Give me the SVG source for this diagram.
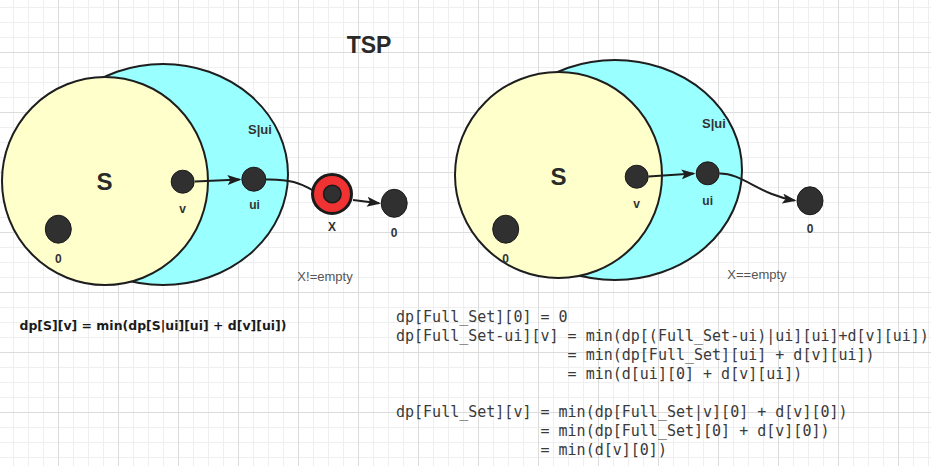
<svg xmlns="http://www.w3.org/2000/svg" width="931" height="466" viewBox="0 0 931 466">
  <defs>
    <pattern id="grid" patternUnits="userSpaceOnUse" x="-2" y="-8" width="60" height="60">
      <rect x="0" y="0" width="60" height="60" fill="#ffffff"/>
      <g fill="#efefef">
        <rect x="15" y="0" width="1" height="60"/>
        <rect x="30" y="0" width="1" height="60"/>
        <rect x="45" y="0" width="1" height="60"/>
        <rect x="0" y="15" width="60" height="1"/>
        <rect x="0" y="30" width="60" height="1"/>
        <rect x="0" y="45" width="60" height="1"/>
      </g>
      <g fill="#dcdcdc">
        <rect x="0" y="0" width="1" height="60"/>
        <rect x="0" y="0" width="60" height="1"/>
      </g>
    </pattern>
    <marker id="ah" viewBox="0 0 14 10" refX="12" refY="5" markerWidth="14" markerHeight="10" orient="auto" markerUnits="userSpaceOnUse">
      <path d="M0,0 L14,5 L0,10 L3,5 z" fill="#1e1e1e"/>
    </marker>
    <style>
      .sui { fill: #99ffff; stroke: #1e1e1e; stroke-width: 2; }
      .s { fill: #ffffcc; stroke: #1e1e1e; stroke-width: 2; }
      .dot { fill: #303030; stroke: #1a1a1a; stroke-width: 1; }
      .edge { fill: none; stroke: #1e1e1e; stroke-width: 2; }
      .lbl { font-family: "Liberation Sans", Arial, sans-serif; font-weight: bold; font-size: 12px; fill: #333333; text-anchor: middle; }
      .big { font-family: "Liberation Sans", Arial, sans-serif; font-weight: bold; font-size: 24px; fill: #2a2a2a; text-anchor: middle; }
      .set { font-family: "Liberation Sans", Arial, sans-serif; font-weight: bold; font-size: 13px; fill: #333333; text-anchor: middle; }
      .note { font-family: "Liberation Sans", Arial, sans-serif; font-size: 13px; fill: #555555; text-anchor: middle; }
      .code { font-family: "DejaVu Sans Mono", "Liberation Mono", monospace; font-size: 15px; fill: #3a3a3a; }
      .formula { font-family: "DejaVu Sans", "Liberation Sans", sans-serif; font-weight: bold; font-size: 12.5px; fill: #1a1a1a; }
    </style>
  </defs>

  <rect x="0" y="0" width="931" height="466" fill="url(#grid)"/>

  <g id="title">
    <text x="369" y="53" font-family="'Liberation Sans', Arial, sans-serif" font-weight="bold" font-size="23" fill="#2a2a2a" text-anchor="middle">TSP</text>
  </g>

  <!-- Left diagram sets -->
  <g id="set-sui-left">
    <ellipse class="sui" cx="163" cy="174.5" rx="125" ry="110.5"/>
    <text class="set" x="260" y="134">S|ui</text>
  </g>
  <g id="set-s-left">
    <ellipse class="s" cx="105" cy="181" rx="103" ry="104"/>
    <text class="big" x="104.5" y="190">S</text>
  </g>

  <!-- Right diagram sets -->
  <g id="set-sui-right">
    <ellipse class="sui" cx="615" cy="170" rx="127" ry="110"/>
    <text class="set" x="714" y="128">S|ui</text>
  </g>
  <g id="set-s-right">
    <ellipse class="s" cx="558.5" cy="175" rx="103.5" ry="103"/>
    <text class="big" x="558.5" y="185">S</text>
  </g>

  <g id="connectors">
    <path class="edge" d="M195,181.5 L239.5,179.5" marker-end="url(#ah)"/>
    <path class="edge" d="M266,179.5 C290,179 300,183 314,191"/>
    <path class="edge" d="M353,200 L379,203.2" marker-end="url(#ah)"/>
    <path class="edge" d="M648.5,176.5 L693.5,173.6" marker-end="url(#ah)"/>
    <path class="edge" d="M719.5,173.5 C742,173 760,195 794.5,200.4" marker-end="url(#ah)"/>
  </g>

  <!-- Left nodes -->
  <g id="node-v-left">
    <circle class="dot" cx="182.7" cy="181.7" r="11.5"/>
    <text class="lbl" x="182.7" y="213">v</text>
  </g>
  <g id="node-ui-left">
    <circle class="dot" cx="253.8" cy="179.2" r="12"/>
    <text class="lbl" x="254.5" y="209">ui</text>
  </g>
  <g id="node-0-left-in">
    <ellipse class="dot" cx="58.3" cy="229.2" rx="13" ry="14"/>
    <text class="lbl" x="58.3" y="262.5">0</text>
  </g>
  <g id="node-x">
    <circle cx="332" cy="194" r="19.5" fill="#f03232" stroke="#1a1a1a" stroke-width="3"/>
    <circle cx="332.3" cy="194" r="8.8" fill="#303030" stroke="#1a1a1a" stroke-width="1.5"/>
    <text class="lbl" x="332" y="230.5">X</text>
  </g>
  <g id="node-0-left-out">
    <ellipse class="dot" cx="394.2" cy="203.3" rx="13" ry="14"/>
    <text class="lbl" x="394.2" y="236.5">0</text>
  </g>
  <g id="note-left">
    <text class="note" x="325" y="281">X!=empty</text>
  </g>

  <!-- Right nodes -->
  <g id="node-v-right">
    <circle class="dot" cx="636.7" cy="176.7" r="11.5"/>
    <text class="lbl" x="636.7" y="208">v</text>
  </g>
  <g id="node-ui-right">
    <circle class="dot" cx="707.7" cy="173.3" r="11.5"/>
    <text class="lbl" x="707.7" y="205">ui</text>
  </g>
  <g id="node-0-right-in">
    <ellipse class="dot" cx="505.7" cy="229.2" rx="13" ry="14"/>
    <text class="lbl" x="505.7" y="262.5">0</text>
  </g>
  <g id="node-0-right-out">
    <ellipse class="dot" cx="810" cy="200.8" rx="13" ry="14"/>
    <text class="lbl" x="810" y="233">0</text>
  </g>
  <g id="note-right">
    <text class="note" x="757" y="279">X==empty</text>
  </g>

  <!-- Formulas -->
  <g id="formula-left">
    <text class="formula" x="19.5" y="329.5" textLength="267" lengthAdjust="spacingAndGlyphs">dp[S][v] = min(dp[S|ui][ui] + d[v][ui])</text>
  </g>
  <g id="formula-right">
    <text class="code" x="396" y="321.5">dp[Full_Set][0] = 0</text>
    <text class="code" x="396" y="340.5">dp[Full_Set-ui][v] = min(dp[(Full_Set-ui)|ui][ui]+d[v][ui])</text>
    <text class="code" x="567.6" y="359.5">= min(dp[Full_Set][ui] + d[v][ui])</text>
    <text class="code" x="567.6" y="378.5">= min(d[ui][0] + d[v][ui])</text>
    <text class="code" x="396" y="416.5">dp[Full_Set][v] = min(dp[Full_Set|v][0] + d[v][0])</text>
    <text class="code" x="540.5" y="435.5">= min(dp[Full_Set][0] + d[v][0])</text>
    <text class="code" x="540.5" y="454.5">= min(d[v][0])</text>
  </g>
</svg>
